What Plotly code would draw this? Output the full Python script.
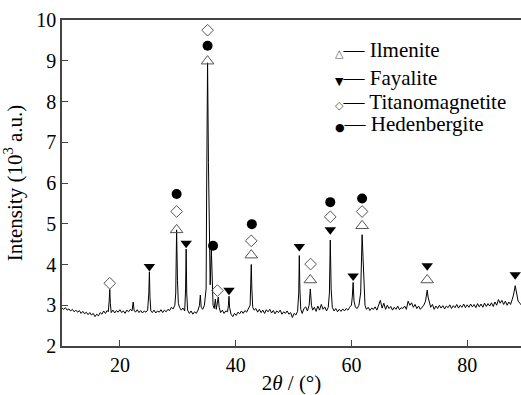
import plotly.graph_objects as go

# XRD pattern: 2theta (deg) and intensity (10^3 a.u.)
two_theta = [
    10.0, 10.3, 10.6, 10.9, 11.2, 11.5, 11.8, 12.1, 12.4, 12.7, 13.0, 13.3, 13.6, 13.9, 14.2, 14.5,
    14.8, 15.1, 15.4, 15.7, 16.0, 16.3, 16.6, 16.9, 17.2, 17.5, 17.8, 18.0, 18.15, 18.25, 18.35, 18.5,
    18.8, 19.1, 19.4, 19.7, 20.0, 20.3, 20.6, 20.9, 21.2, 21.5, 21.8, 22.1, 22.3, 22.45, 22.7, 23.0,
    23.3, 23.6, 23.9, 24.2, 24.5, 24.8, 25.0, 25.1, 25.2, 25.35, 25.6, 25.9, 26.2, 26.5, 26.8, 27.1,
    27.4, 27.7, 28.0, 28.3, 28.6, 28.9, 29.2, 29.5, 29.65, 29.8, 29.95, 30.1, 30.3, 30.6, 30.9, 31.2,
    31.35, 31.45, 31.55, 31.7, 32.0, 32.3, 32.6, 32.9, 33.2, 33.5, 33.75, 33.9, 34.05, 34.3, 34.6, 34.9,
    35.0, 35.15, 35.3, 35.45, 35.6, 35.8, 35.95, 36.1, 36.3, 36.5, 36.65, 36.8, 37.0, 37.15, 37.4, 37.7,
    38.0, 38.3, 38.6, 38.75, 38.85, 38.95, 39.2, 39.5, 39.8, 40.1, 40.4, 40.7, 41.0, 41.3, 41.6, 41.9,
    42.2, 42.5, 42.6, 42.7, 42.8, 42.95, 43.2, 43.5, 43.8, 44.1, 44.4, 44.7, 45.0, 45.3, 45.6, 45.9,
    46.2, 46.5, 46.8, 47.1, 47.4, 47.7, 48.0, 48.3, 48.6, 48.9, 49.2, 49.5, 49.8, 50.1, 50.4, 50.7,
    50.9, 51.0, 51.1, 51.25, 51.5, 51.8, 52.1, 52.4, 52.7, 52.9, 53.1, 53.3, 53.6, 53.9, 54.2, 54.5,
    54.8, 55.1, 55.4, 55.7, 56.0, 56.2, 56.35, 56.5, 56.7, 57.0, 57.3, 57.6, 57.9, 58.2, 58.5, 58.8,
    59.1, 59.4, 59.7, 60.0, 60.15, 60.3, 60.45, 60.7, 61.0, 61.3, 61.6, 61.75, 61.85, 62.0, 62.15, 62.35,
    62.6, 62.9, 63.2, 63.5, 63.8, 64.1, 64.4, 64.7, 65.0, 65.3, 65.6, 65.9, 66.2, 66.5, 66.8, 67.1,
    67.4, 67.7, 68.0, 68.3, 68.6, 68.9, 69.2, 69.5, 69.8, 70.1, 70.4, 70.7, 71.0, 71.3, 71.6, 71.9,
    72.2, 72.5, 72.8, 73.0, 73.1, 73.25, 73.45, 73.7, 74.0, 74.3, 74.6, 74.9, 75.2, 75.5, 75.8, 76.1,
    76.4, 76.7, 77.0, 77.3, 77.6, 77.9, 78.2, 78.5, 78.8, 79.1, 79.4, 79.7, 80.0, 80.3, 80.6, 80.9,
    81.2, 81.5, 81.8, 82.1, 82.4, 82.7, 83.0, 83.3, 83.6, 83.9, 84.2, 84.5, 84.8, 85.1, 85.4, 85.7,
    86.0, 86.3, 86.6, 86.9, 87.2, 87.5, 87.8, 88.0, 88.3, 88.5, 88.8, 89.1, 89.4,
]
intensity = [
    2.93, 2.90, 2.94, 2.88, 2.91, 2.86, 2.90, 2.84, 2.88, 2.83, 2.87, 2.80, 2.85, 2.79, 2.83, 2.77,
    2.82, 2.76, 2.80, 2.72, 2.78, 2.74, 2.82, 2.78, 2.86, 2.80, 2.87, 2.84, 3.10, 3.39, 3.05, 2.82,
    2.88, 2.81, 2.87, 2.83, 2.89, 2.82, 2.86, 2.80, 2.88, 2.84, 2.90, 2.86, 3.08, 2.88, 2.83, 2.89,
    2.82, 2.87, 2.81, 2.86, 2.83, 2.88, 3.30, 3.82, 3.20, 2.86, 2.82, 2.88, 2.81, 2.86, 2.83, 2.89,
    2.82, 2.88, 2.84, 2.90, 2.87, 2.95, 2.91, 3.00, 3.30, 4.85, 3.60, 3.05, 2.95, 2.88, 2.93, 2.86,
    3.40, 4.38, 3.30, 2.88, 2.80, 2.86, 2.78, 2.84, 2.80, 2.88, 3.00, 3.25, 2.95, 2.90, 3.00, 3.40,
    6.00, 8.95, 6.50, 4.00, 3.50, 4.38, 3.40, 3.00, 2.92, 3.15, 2.90, 3.05, 3.20, 2.95, 2.82, 2.88,
    2.80, 2.86, 2.84, 3.00, 3.22, 2.95, 2.78, 2.72, 2.80, 2.75, 2.83, 2.79, 2.86, 2.80, 2.87, 2.83,
    2.90, 3.00, 3.50, 4.00, 3.40, 2.95, 2.88, 2.92, 2.83, 2.90, 2.82, 2.88, 2.80, 2.89, 2.84, 2.90,
    2.81, 2.87, 2.79, 2.86, 2.82, 2.88, 2.78, 2.84, 2.80, 2.86, 2.78, 2.82, 2.70, 2.80, 2.76, 2.85,
    3.30, 4.22, 3.40, 2.90, 2.80, 2.92, 2.96, 2.86, 3.00, 3.40, 3.00, 2.88, 2.95, 2.85, 2.98, 2.88,
    3.02, 2.90, 2.96, 2.86, 2.95, 3.30, 4.60, 3.40, 2.95, 2.86, 2.92, 2.84, 2.90, 2.85, 2.91, 2.86,
    2.92, 2.88, 2.95, 3.00, 3.20, 3.56, 3.10, 2.95, 2.92, 3.00, 3.30, 4.40, 4.73, 4.20, 3.40, 3.00,
    2.90, 2.95, 2.87, 2.93, 2.90, 2.96, 2.88, 3.02, 3.12, 2.93, 3.05, 2.90, 3.00, 2.92, 2.97, 2.88,
    2.95, 2.90, 2.98, 2.89, 2.94, 2.92, 2.98, 2.90, 3.10, 3.00, 3.06, 2.95, 3.02, 2.92, 2.98, 2.90,
    2.96, 3.00, 3.10, 3.25, 3.37, 3.20, 3.05, 2.95, 3.02, 2.90, 2.98, 2.92, 3.00, 2.93, 2.99, 2.91,
    2.98, 2.94, 3.01, 2.92, 2.99, 2.94, 3.02, 2.93, 3.00, 2.95, 3.03, 2.94, 3.01, 2.95, 3.03, 2.96,
    3.02, 2.94, 3.04, 2.96, 3.03, 2.95, 3.05, 2.97, 3.04, 2.98, 3.06, 2.97, 3.08, 3.00, 3.14, 3.05,
    3.12, 3.02, 3.10, 3.00, 3.08, 3.02, 3.15, 3.25, 3.48, 3.30, 3.10, 3.05, 3.00,
]

# Phase markers (2theta, marker height)
ilmenite_x = [29.8, 35.15, 42.7, 52.9, 61.85, 73.1]
ilmenite_y = [4.85, 8.99, 4.23, 3.62, 4.95, 3.62]
fayalite_x = [25.1, 31.45, 38.85, 51.0, 56.35, 60.3, 73.1, 88.3]
fayalite_y = [3.95, 4.52, 3.37, 4.44, 4.85, 3.72, 3.97, 3.75]
titanomagnetite_x = [18.25, 29.8, 35.15, 36.85, 42.7, 52.95, 56.35, 61.85]
titanomagnetite_y = [3.54, 5.30, 9.75, 3.36, 4.58, 4.01, 5.17, 5.30]
hedenbergite_x = [29.8, 35.15, 36.1, 42.8, 56.35, 61.85]
hedenbergite_y = [5.73, 9.37, 4.46, 4.99, 5.53, 5.62]

phase_names = ["Ilmenite", "Fayalite", "Titanomagnetite", "Hedenbergite"]
phase_glyphs = ["△", "▼", "◇", "●"]

x_ticks = [20, 40, 60, 80]
y_ticks = [2, 3, 4, 5, 6, 7, 8, 9, 10]

FONT = "Liberation Serif"
W, H = 521, 395
ML, MR, MT, MB = 62, 0, 20, 49

fig = go.Figure()
fig.add_trace(go.Scatter(x=two_theta, y=intensity, mode="lines",
                         line=dict(color="black", width=1), showlegend=False))
fig.add_trace(go.Scatter(x=ilmenite_x, y=ilmenite_y, mode="markers", name=phase_names[0],
                         showlegend=False,
                         marker=dict(symbol="triangle-up-open", size=11, color="#555",
                                     line=dict(width=1, color="#555"))))
fig.add_trace(go.Scatter(x=fayalite_x, y=fayalite_y, mode="markers", name=phase_names[1],
                         showlegend=False,
                         marker=dict(symbol="triangle-down", size=10, color="black")))
fig.add_trace(go.Scatter(x=titanomagnetite_x, y=titanomagnetite_y, mode="markers",
                         name=phase_names[2], showlegend=False,
                         marker=dict(symbol="diamond-open", size=9, color="#555",
                                     line=dict(width=1, color="#555"))))
fig.add_trace(go.Scatter(x=hedenbergite_x, y=hedenbergite_y, mode="markers", name=phase_names[3],
                         showlegend=False,
                         marker=dict(symbol="circle", size=10, color="black")))

# Legend drawn as text rows (symbol, dash, name) at the reference's pixel rows
legend_rows_px = [50, 78, 102, 124]
legend_left_px = 333
glyph_colors = ["#555", "black", "#555", "black"]
pw, ph = W - ML - MR, H - MT - MB
for name, glyph, col, ypx in zip(phase_names, phase_glyphs, glyph_colors, legend_rows_px):
    fig.add_annotation(
        xref="paper", yref="paper",
        x=(legend_left_px - ML) / pw, y=(H - MB - ypx) / ph,
        xanchor="left", yanchor="middle", showarrow=False,
        text=(f'<span style="font-family:DejaVu Sans;font-size:11px;color:{col}">{glyph}</span>'
              f'— {name}'),
        font=dict(family=FONT, size=21, color="black"),
    )

fig.update_layout(
    width=W, height=H,
    margin=dict(l=ML, r=MR, t=MT, b=MB),
    paper_bgcolor="white", plot_bgcolor="white",
    font=dict(family=FONT, size=20, color="black"),
    showlegend=False,
    xaxis=dict(range=[10, 89.3], tickvals=x_ticks, ticks="inside", ticklen=6,
               tickcolor="#444", showgrid=False, zeroline=False,
               showline=True, linecolor="#444", linewidth=1.5, mirror=True,
               tickfont=dict(family=FONT, size=20),
               title=dict(text="2<i>θ</i> / (°)", standoff=3, font=dict(family=FONT, size=21))),
    yaxis=dict(range=[2, 10], tickvals=y_ticks, ticks="inside", ticklen=6,
               tickcolor="#444", showgrid=False, zeroline=False,
               showline=True, linecolor="#444", linewidth=1.5,
               tickfont=dict(family=FONT, size=20),
               title=dict(text="Intensity (10<sup>3</sup> a.u.)", standoff=8,
                          font=dict(family=FONT, size=21))),
)

fig.write_html("out.html", config={"displayModeBar": False},
               post_script="document.body.style.margin='0';document.body.style.padding='0';")
